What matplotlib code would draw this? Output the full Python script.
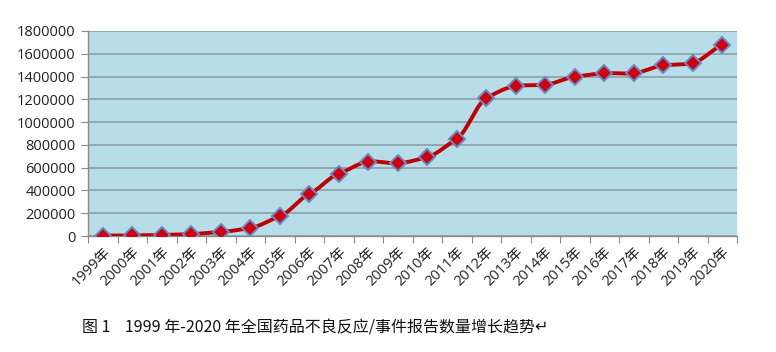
import matplotlib
matplotlib.use("Agg")
import matplotlib.pyplot as plt
import numpy as np

years = [f"{y}年" for y in range(1999, 2021)]
reports = [3000, 5000, 9000, 17000, 36000, 70000, 173000, 369000, 547000, 653000,
           639000, 693000, 853000, 1210000, 1317000, 1328000, 1398000, 1430000,
           1429000, 1499000, 1519000, 1676000]
yticks = list(range(0, 1800001, 200000))
caption = "图 1    1999 年-2020 年全国药品不良反应/事件报告数量增长趋势↵"

plt.rcParams['font.family'] = ['Open Sans', 'Noto Sans CJK SC', 'DejaVu Sans']

fig = plt.figure(figsize=(7.76, 3.52), dpi=100)
ax = fig.add_axes([88/776, 1-236/352, (737-88)/776, (236-31)/352])
ax.set_facecolor('#B7DDE8')

x = np.arange(len(years))

def smooth(xs, ys, n=24, k=0.6):
    # cardinal (Hermite) spline through the data points, mild tension like Excel smoothing
    xs = np.asarray(xs, float); ys = np.asarray(ys, float)
    m = np.zeros_like(ys)
    m[1:-1] = (ys[2:] - ys[:-2]) / 2 * k
    m[0] = (ys[1] - ys[0]) * k
    m[-1] = (ys[-1] - ys[-2]) * k
    outx, outy = [], []
    for i in range(len(xs) - 1):
        t = np.linspace(0, 1, n, endpoint=False)
        h00 = 2*t**3 - 3*t**2 + 1
        h10 = t**3 - 2*t**2 + t
        h01 = -2*t**3 + 3*t**2
        h11 = t**3 - t**2
        outx.extend(xs[i] + t*(xs[i+1]-xs[i]))
        outy.extend(h00*ys[i] + h10*m[i] + h01*ys[i+1] + h11*m[i+1])
    outx.append(xs[-1]); outy.append(ys[-1])
    return np.array(outx), np.array(outy)

sx, sy = smooth(x, reports)
ax.plot(sx, sy, color='#C00000', lw=2.8, zorder=3, solid_capstyle='round')
ax.plot(x, reports, linestyle='none', marker='D', markersize=8,
        markerfacecolor='#D00010', markeredgecolor='#6A8BC0', markeredgewidth=1.4, zorder=4)

ax.set_xlim(-0.5, len(years)-0.5)
ax.set_ylim(0, 1800000)
ax.set_yticks(yticks)
ax.set_yticklabels([str(v) for v in yticks], fontsize=10.5, color='#222222')
ax.yaxis.grid(True, color='#8A9A9E', lw=1.1)
ax.set_axisbelow(True)

ax.set_xticks(np.arange(-0.5, len(years), 1.0))
ax.set_xticklabels([])
ax.set_xticks(x, minor=True)
ax.set_xticklabels(years, minor=True, rotation=45, ha='right', va='top',
                   rotation_mode='anchor', fontsize=10.5, color='#222222')
ax.tick_params(axis='x', which='minor', length=0, pad=6)
ax.tick_params(axis='x', which='major', length=5, color='#8A8A8A', direction='out')
ax.tick_params(axis='y', length=5, color='#8A8A8A', pad=4)

for s in ['top', 'right']:
    ax.spines[s].set_visible(False)
for s in ['left', 'bottom']:
    ax.spines[s].set_color('#8A8A8A')
    ax.spines[s].set_linewidth(1.0)

fig.text(82/776, 1-328/352, caption, fontsize=11.5, ha='left', va='center',
         family=['Noto Sans CJK SC', 'DejaVu Sans'], color='#111111')

fig.savefig('out.png', dpi=100, facecolor='white')
